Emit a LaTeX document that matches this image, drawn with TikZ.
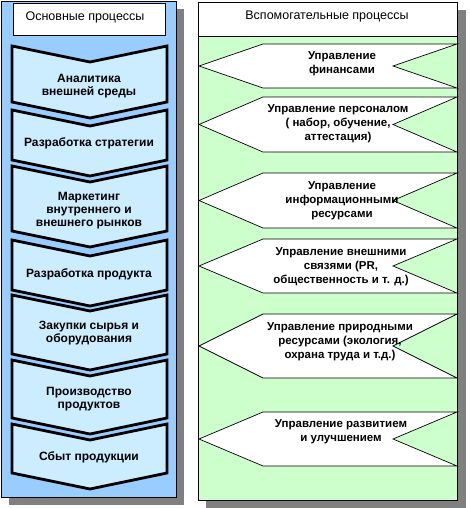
\documentclass[tikz,border=0pt]{standalone}
\usepackage{fontspec}
\setmainfont{Liberation Sans}
\definecolor{blueP}{HTML}{99CCFF}
\definecolor{chevF}{HTML}{CCECFF}
\definecolor{greenP}{HTML}{CCFFCC}
\definecolor{shadowc}{HTML}{808080}
\begin{document}
\begin{tikzpicture}[x=1pt,y=-1pt,
  panel/.style={draw=black, line width=0.9pt},
  chevbox/.style={draw=black, line width=2.8pt, fill=chevF, line join=miter},
  hexbox/.style={draw=black, line width=0.7pt, fill=white},
  chevtext/.style={align=center, font=\bfseries\fontsize{12}{13}\selectfont, inner sep=0pt},
  hextext/.style={align=center, font=\bfseries\fontsize{11.5}{14}\selectfont, inner sep=0pt},
  headtext/.style={font=\fontsize{12.5}{13}\selectfont, inner sep=0pt}]
\useasboundingbox (0,0) rectangle (470,508);
% shadows
\fill[shadowc] (9,9) rectangle (184,505);
\fill[shadowc] (206,10) rectangle (466,508);
% left panel
\fill[blueP] (1,1) rectangle (176,497);
\draw[panel] (1,1) rectangle (176,497);
\draw[panel, fill=white, line width=0.7pt] (13,3) rectangle (165,35);
\node[headtext] (hl) at (85,17) {Основные процессы};
% right panel
\fill[greenP] (198,2) rectangle (457,500);
\fill[white] (198,2) rectangle (457,36);
\draw[panel] (198,2) rectangle (457,500);
\draw[panel, line width=0.7pt] (198,36) -- (457,36);
\node[headtext] (hr) at (327,16) {Вспомогательные процессы};
% chevrons
\foreach \t/\b/\ty/\txt/\nm in {
  46/102/86/{Аналитика\\внешней среды}/c1,
  110/160/143/{Разработка стратегии}/c2,
  166/231/211/{Маркетинг\\внутреннего и\\внешнего рынков}/c3,
  240/290/274/{Разработка продукта}/c4,
  295/354/333/{Закупки сырья и\\оборудования}/c5,
  360/418/399/{Производство\\продуктов}/c6,
  424/473/457/{Сбыт продукции}/c7}{
  \draw[chevbox] (12,\t) -- (90,\t+16) -- (167,\t) -- (167,\b) -- (90,\b+16) -- (12,\b) -- cycle;
  \node[chevtext] (\nm) at (89,\ty) {\txt};
}
% hexagons
\foreach \t/\b/\tx/\ty/\txt/\nm in {
  44/88/342/64/{Управление\\финансами}/h1,
  97/152/338/124/{Управление персоналом\\( набор, обучение,\\аттестация)}/h2,
  173/228/342/201/{Управление\\информационными\\ресурсами}/h3,
  239/293/341/267/{Управление внешними\\связями (PR,\\общественность и т. д.)}/h4,
  314/378/340/342/{Управление природными\\ресурсами (экология,\\охрана труда и т.д.)}/h5,
  412/466/341/432/{Управление развитием\\и улучшением}/h6}{
  \pgfmathsetmacro{\m}{(\t+\b)/2}
  \draw[hexbox] (263,\t) -- (457,\t) -- (393,\m) -- (457,\b) -- (263,\b) -- (199,\m) -- cycle;
  \node[hextext] (\nm) at (\tx,\ty) {\txt};
}
\end{tikzpicture}
\end{document}
